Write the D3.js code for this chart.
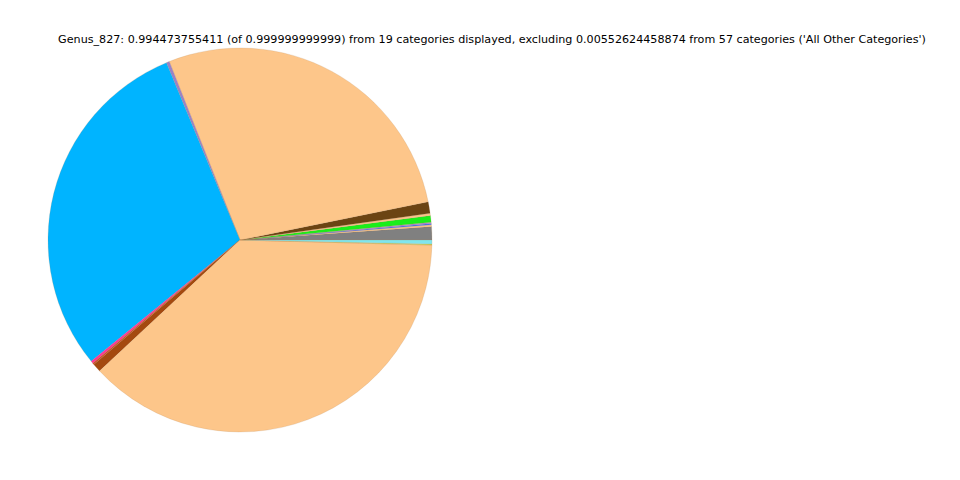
<!DOCTYPE html>
<html><head><meta charset="utf-8">
<script src="https://cdn.jsdelivr.net/npm/d3@7"></script>
<style>body{margin:0;background:#fff}svg{display:block}</style>
</head><body>
<svg id="c" width="960" height="480"></svg>
<script>
const titleText = "Genus_827: 0.994473755411 (of 0.999999999999) from 19 categories displayed, excluding 0.00552624458874 from 57 categories ('All Other Categories')";
const categories = ["Cat 1","Cat 2","Cat 3","Cat 4","Cat 5","Cat 6","Cat 7","Cat 8","Cat 9","Cat 10","Cat 11","Cat 12","Cat 13","Cat 14","Cat 15","Cat 16"];
const values = [0.0112,0.0014,0.0011,0.0011,0.0055,0.0019,0.0096,0.2781,0.0025,0.2962,0.0019,0.0014,0.0072,0.3762,0.0008,0.0034];
const colors = ["#808080","#fdc68a","#3f6fff","#a982d6","#1aee1a","#fdc68a","#6b4413","#fdc68a","#9b82c8","#00b4ff","#ff3399","#d04a2a","#a4490f","#fdc68a","#c8d850","#7fe6ee"];

const svg = d3.select("#c");
svg.append("text").attr("x", 492).attr("y", 43).attr("text-anchor", "middle")
  .attr("font-family", "DejaVu Sans").attr("font-size", 11.15).attr("fill", "#000").text(titleText);

const cx = 240, cy = 240, r = 192;
const data = categories.map((c, i) => ({name: c, value: values[i], color: colors[i]}));
const pie = d3.pie().value(d => d.value).sort(null).startAngle(Math.PI / 2).endAngle(Math.PI / 2 - 2 * Math.PI);
const arc = d3.arc().innerRadius(0).outerRadius(r);
svg.append("g").attr("transform", `translate(${cx},${cy})`)
  .selectAll("path").data(pie(data)).join("path")
  .attr("d", arc).attr("fill", d => d.data.color)
  .attr("stroke", "#b08050").attr("stroke-opacity", 0.35).attr("stroke-width", 0.5);
</script>
</body></html>
